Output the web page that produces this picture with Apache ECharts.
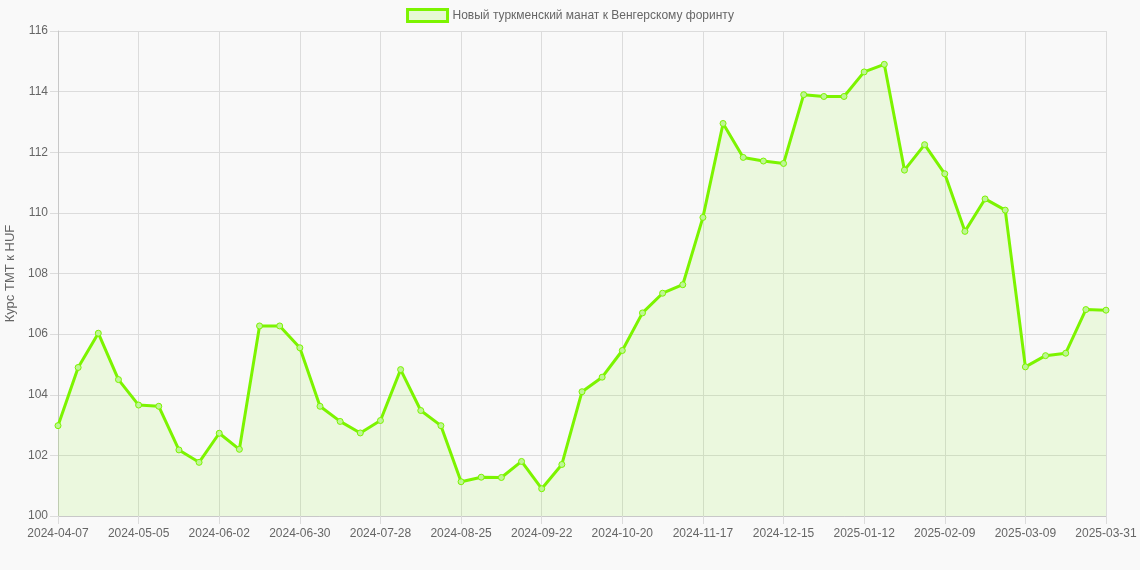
<!DOCTYPE html>
<html><head><meta charset="utf-8">
<script src="https://cdn.jsdelivr.net/npm/echarts@6/dist/echarts.min.js"></script>
<style>html,body{margin:0;padding:0;background:#f9f9f9;}#c{width:1140px;height:570px;}</style>
</head><body><div id="c"></div>
<script>
const categories = ['2024-04-07','2024-04-14','2024-04-21','2024-04-28','2024-05-05','2024-05-12','2024-05-19','2024-05-26','2024-06-02','2024-06-09','2024-06-16','2024-06-23','2024-06-30','2024-07-07','2024-07-14','2024-07-21','2024-07-28','2024-08-04','2024-08-11','2024-08-18','2024-08-25','2024-09-01','2024-09-08','2024-09-15','2024-09-22','2024-09-29','2024-10-06','2024-10-13','2024-10-20','2024-10-27','2024-11-03','2024-11-10','2024-11-17','2024-11-24','2024-12-01','2024-12-08','2024-12-15','2024-12-22','2024-12-29','2025-01-05','2025-01-12','2025-01-19','2025-01-26','2025-02-02','2025-02-09','2025-02-16','2025-02-23','2025-03-02','2025-03-09','2025-03-16','2025-03-23','2025-03-30','2025-03-31'];
const rates = [102.98,104.9,106.03,104.5,103.66,103.62,102.18,101.77,102.73,102.2,106.27,106.27,105.55,103.62,103.12,102.74,103.15,104.83,103.48,102.98,101.13,101.28,101.27,101.8,100.9,101.7,104.1,104.58,105.46,106.7,107.35,107.63,109.85,112.95,111.83,111.71,111.63,113.9,113.84,113.84,114.65,114.9,111.41,112.25,111.29,109.39,110.46,110.09,104.92,105.29,105.37,106.81,106.79];
const seriesName = 'Новый туркменский манат к Венгерскому форинту';
const yAxisName = 'Курс ТМТ к HUF';
const yMin = 100, yMax = 116, yStep = 2;

const lineColor = '#7cf400';
const font = '"Liberation Sans", Arial, sans-serif';
const chart = echarts.init(document.getElementById('c'));
chart.setOption({
  backgroundColor: '#f9f9f9',
  animation: false,
  textStyle: {fontFamily: font},
  legend: {
    top: 3, left: 'center',
    itemWidth: 40, itemHeight: 12, itemGap: 8,
    icon: 'rect',
    textStyle: {color: '#666', fontSize: 12, fontFamily: font},
    data: [{name: seriesName, itemStyle: {color: 'rgba(124,250,0,0.15)', borderColor: lineColor, borderWidth: 3}}]
  },
  grid: {left: 58, right: 34, top: 31, bottom: 54, containLabel: false, outerBoundsMode: 'none'},
  xAxis: {
    type: 'category', data: categories, boundaryGap: false,
    axisLine: {show: true, lineStyle: {color: '#c8c8c8'}},
    axisTick: {show: true, interval: 3, length: 8, lineStyle: {color: '#dcdcdc'}},
    axisLabel: {interval: 3, color: '#666', fontSize: 12, margin: 12, fontFamily: font},
    splitLine: {show: true, interval: 3, lineStyle: {color: '#dcdcdc'}}
  },
  yAxis: {
    type: 'value', min: yMin, max: yMax, interval: yStep,
    name: yAxisName, nameLocation: 'middle', nameGap: 38, nameRotate: 90,
    nameTextStyle: {color: '#666', fontSize: 13, fontFamily: font},
    axisLine: {show: true, lineStyle: {color: '#c8c8c8'}},
    axisTick: {show: true, length: 8, lineStyle: {color: '#dcdcdc'}},
    axisLabel: {color: '#666', fontSize: 12, margin: 10, fontFamily: font},
    splitLine: {show: true, lineStyle: {color: '#dcdcdc'}}
  },
  series: [{
    name: seriesName, type: 'line', data: rates,
    symbol: 'circle', symbolSize: 6, showAllSymbol: true,
    lineStyle: {color: lineColor, width: 3},
    itemStyle: {color: 'rgba(190,245,150,1)', borderColor: lineColor, borderWidth: 1},
    areaStyle: {color: 'rgba(124,250,0,0.15)'}
  }]
});
</script></body></html>
